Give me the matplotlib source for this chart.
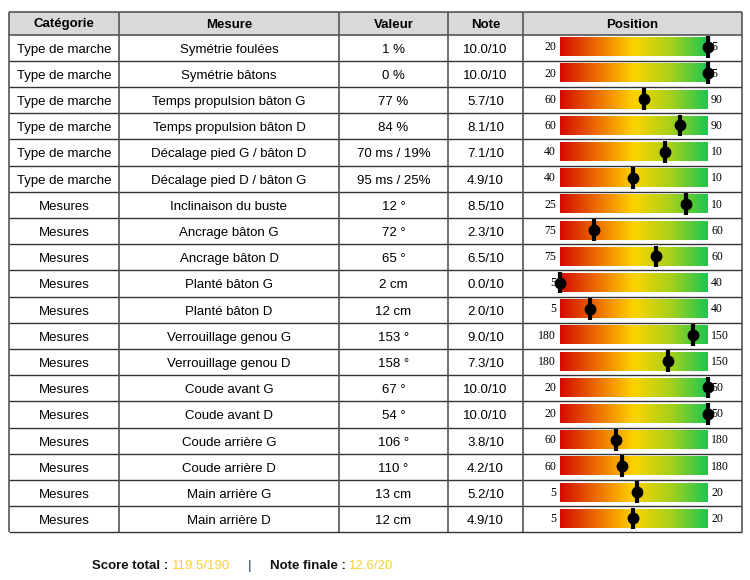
import numpy as np
import matplotlib.pyplot as plt
from matplotlib.colors import LinearSegmentedColormap

plt.rcParams['font.family'] = ['Liberation Sans', 'DejaVu Sans']

headers = ["Catégorie", "Mesure", "Valeur", "Note", "Position"]

categories = ["Type de marche"] * 6 + ["Mesures"] * 13
mesures = ["Symétrie foulées", "Symétrie bâtons", "Temps propulsion bâton G",
           "Temps propulsion bâton D", "Décalage pied G / bâton D",
           "Décalage pied D / bâton G", "Inclinaison du buste", "Ancrage bâton G",
           "Ancrage bâton D", "Planté bâton G", "Planté bâton D",
           "Verrouillage genou G", "Verrouillage genou D", "Coude avant G",
           "Coude avant D", "Coude arrière G", "Coude arrière D",
           "Main arrière G", "Main arrière D"]
valeurs = ["1 %", "0 %", "77 %", "84 %", "70 ms / 19%", "95 ms / 25%", "12 °",
           "72 °", "65 °", "2 cm", "12 cm", "153 °", "158 °", "67 °", "54 °",
           "106 °", "110 °", "13 cm", "12 cm"]
notes = [10.0, 10.0, 5.7, 8.1, 7.1, 4.9, 8.5, 2.3, 6.5, 0.0, 2.0, 9.0, 7.3,
         10.0, 10.0, 3.8, 4.2, 5.2, 4.9]
borne_min = [20, 20, 60, 60, 40, 40, 25, 75, 75, 5, 5, 180, 180, 20, 20, 60, 60, 5, 5]
borne_max = [5, 5, 90, 90, 10, 10, 10, 60, 60, 40, 40, 150, 150, 50, 50, 180, 180, 20, 20]

score_total = "119.5/190"
note_finale = "12.6/20"

# layout in pixels
col_x = [9, 119, 339, 448, 523, 742]
top = 11.5
head_h = 23
row_h = 26.2
bar_x0, bar_x1 = 560, 708

cmap = LinearSegmentedColormap.from_list(
    "pos", [(0.0, "#d40a00"), (0.28, "#ef7a00"), (0.5, "#fdd300"),
            (0.75, "#a6d11c"), (1.0, "#1cc650")])

fig = plt.figure(figsize=(7.5, 5.8), dpi=100)
ax = fig.add_axes([0, 0, 1, 1])
ax.set_xlim(0, 750)
ax.set_ylim(580, 0)
ax.axis("off")

n = len(categories)
bottom = top + head_h + n * row_h

# header
ax.add_patch(plt.Rectangle((col_x[0], top), col_x[-1] - col_x[0], head_h,
                           facecolor="#d9d9d9", edgecolor="none", zorder=0))
for j, h in enumerate(headers):
    ax.text((col_x[j] + col_x[j + 1]) / 2, top + head_h / 2 + 1.5, h,
            ha="center", va="center", fontsize=9.5, fontweight="bold")

# grid lines
ax.hlines([top, top + head_h], col_x[0], col_x[-1], color="#555555", lw=1.2)
for i in range(1, n + 1):
    ax.hlines(top + head_h + i * row_h, col_x[0], col_x[-1], color="#333333", lw=1)
ax.vlines(col_x, top, bottom, color="#555555", lw=1.2)

grad = np.linspace(0, 1, 256).reshape(1, -1)
for i in range(n):
    y0 = top + head_h + i * row_h
    yc = y0 + row_h / 2 + 2
    ax.text((col_x[0] + col_x[1]) / 2, yc, categories[i], ha="center", va="center", fontsize=9.5)
    ax.text((col_x[1] + col_x[2]) / 2, yc, mesures[i], ha="center", va="center", fontsize=9.5)
    ax.text((col_x[2] + col_x[3]) / 2, yc, valeurs[i], ha="center", va="center", fontsize=9.5)
    ax.text((col_x[3] + col_x[4]) / 2, yc, f"{notes[i]:.1f}/10", ha="center", va="center", fontsize=9.5)

    b_top, b_bot = y0 + 3, y0 + row_h - 4.5
    bc = (b_top + b_bot) / 2
    ax.imshow(grad, cmap=cmap, aspect="auto", extent=(bar_x0, bar_x1, b_bot, b_top), zorder=2)
    ax.text(bar_x0 - 4, bc + 0.5, str(borne_min[i]), ha="right", va="center",
            fontsize=8.5, family="Liberation Serif", zorder=3)
    ax.text(bar_x1 + 3, bc + 0.5, str(borne_max[i]), ha="left", va="center",
            fontsize=8.5, family="Liberation Serif", zorder=3)

    mx = bar_x0 + notes[i] / 10 * (bar_x1 - bar_x0)
    ax.vlines(mx, b_top - 1.5, b_bot + 1.5, color="black", lw=3, zorder=4)
    ax.plot(mx, bc, "o", color="black", ms=7.5, zorder=5)

ax.set_xlim(0, 750)
ax.set_ylim(580, 0)

# footer
parts = [("Score total : ", "#111111", "bold"), (score_total, "#f7cf3a", "normal"),
         ("     |     ", "#1f3b5c", "normal"), ("Note finale : ", "#111111", "bold"),
         (note_finale, "#f7cf3a", "normal")]
fig.canvas.draw()
x = 92
renderer = fig.canvas.get_renderer()
for txt, col, w in parts:
    t = ax.text(x, 566, txt, ha="left", va="center", fontsize=9.5, color=col, fontweight=w)
    bb = t.get_window_extent(renderer=renderer)
    x += bb.width

fig.savefig("out.png", dpi=100)
